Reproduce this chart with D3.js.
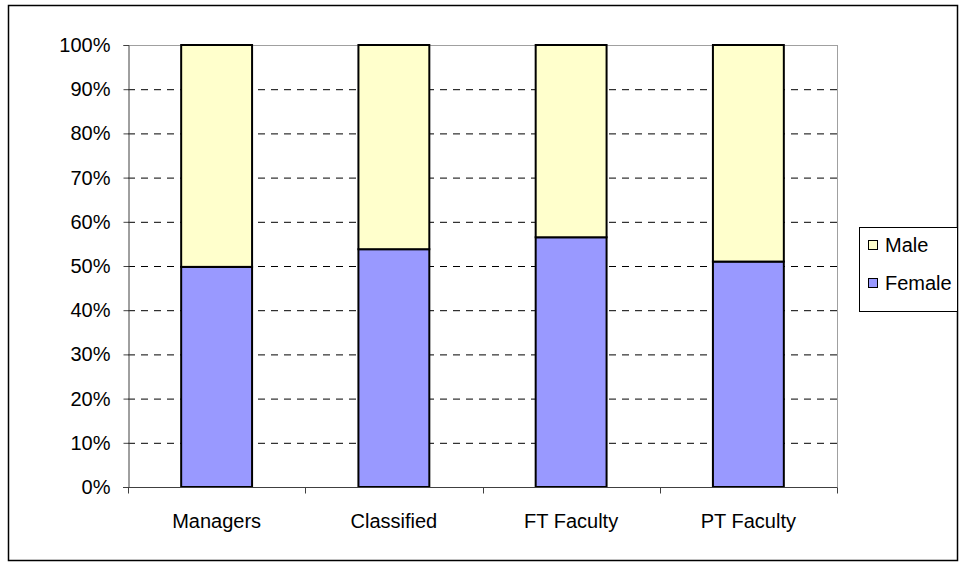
<!DOCTYPE html>
<html><head><meta charset="utf-8">
<script src="https://cdn.jsdelivr.net/npm/d3@7"></script>
<style>body{margin:0;background:#fff}svg{display:block}text{font-family:"Liberation Sans",Arial,sans-serif;font-size:20px;fill:#000}</style>
</head><body>
<svg id="c" width="959" height="563"></svg>
<script>
const categories = ["Managers","Classified","FT Faculty","PT Faculty"];
const female = [49.8, 53.8, 56.5, 51.0];
const male = [50.2, 46.2, 43.5, 49.0];
const seriesNames = ["Female","Male"];
const seriesColors = ["#9999FF","#FFFFCC"];
const yTicks = [0,10,20,30,40,50,60,70,80,90,100];

const svg = d3.select("#c");
svg.append("rect").attr("x",8.5).attr("y",5.5).attr("width",949).attr("height",555)
  .attr("fill","#fff").attr("stroke","#000").attr("stroke-width",1.5);

const L=128,R=837,T=45,B=487;
const x = d3.scaleBand().domain(categories).range([L,R]).paddingInner(0.6).paddingOuter(0.3);
const y = d3.scaleLinear().domain([0,100]).range([B,T]);

// grid
svg.append("g").selectAll("line").data(yTicks.filter(t=>t>0&&t<100)).join("line")
  .attr("x1",L).attr("x2",R).attr("y1",d=>y(d)+0.5).attr("y2",d=>y(d)+0.5)
  .attr("stroke","#000").attr("stroke-dasharray","7,6");
svg.append("line").attr("x1",L).attr("x2",R).attr("y1",y(100)+0.5).attr("y2",y(100)+0.5).attr("stroke","#a0a0a0");
svg.append("line").attr("x1",R+0.5).attr("x2",R+0.5).attr("y1",T).attr("y2",B).attr("stroke","#a0a0a0");

const data = categories.map((c,i)=>({cat:c,Female:female[i],Male:male[i]}));
const stack = d3.stack().keys(seriesNames)(data);
svg.append("g").selectAll("g").data(stack).join("g")
  .attr("fill",(d,i)=>seriesColors[i])
  .selectAll("rect").data(d=>d).join("rect")
  .attr("x",d=>x(d.data.cat)).attr("width",x.bandwidth())
  .attr("y",d=>y(d[1])).attr("height",d=>y(d[0])-y(d[1]))
  .attr("stroke","#000").attr("stroke-width",2);

// y axis
const ya = svg.append("g").attr("transform",`translate(${L+0.5},0)`)
  .call(d3.axisLeft(y).tickValues(yTicks).tickFormat(d=>d+"%").tickSize(5).tickPadding(13));
ya.select(".domain").attr("stroke","#404040");
ya.selectAll(".tick line").attr("stroke","#404040");
ya.selectAll("text").attr("fill","#000");

// x axis
const xa = svg.append("g").attr("transform",`translate(0,${B+0.5})`);
xa.append("line").attr("x1",L-5).attr("x2",R+0.5).attr("stroke","#404040");
const bounds = [0,1,2,3,4].map(i=>L+i*(R-L)/4);
xa.selectAll(".tk").data(bounds).join("line").attr("class","tk")
  .attr("x1",d=>Math.round(d)+0.5).attr("x2",d=>Math.round(d)+0.5).attr("y1",0).attr("y2",6).attr("stroke","#404040");
xa.selectAll("text").data(categories).join("text")
  .attr("x",d=>x(d)+x.bandwidth()/2).attr("y",40).attr("text-anchor","middle").text(d=>d);

// legend
const lg = svg.append("g");
lg.append("rect").attr("x",859.5).attr("y",227.5).attr("width",98).attr("height",84).attr("fill","#fff").attr("stroke","#000");
const legItems = [{n:"Male",c:seriesColors[1]},{n:"Female",c:seriesColors[0]}];
legItems.forEach((d,i)=>{
  const yy = 245 + i*38;
  lg.append("rect").attr("x",868.5).attr("y",yy-4.5).attr("width",9).attr("height",9).attr("fill",d.c).attr("stroke","#000");
  lg.append("text").attr("x",885).attr("y",yy+7).text(d.n);
});
</script>
</body></html>
